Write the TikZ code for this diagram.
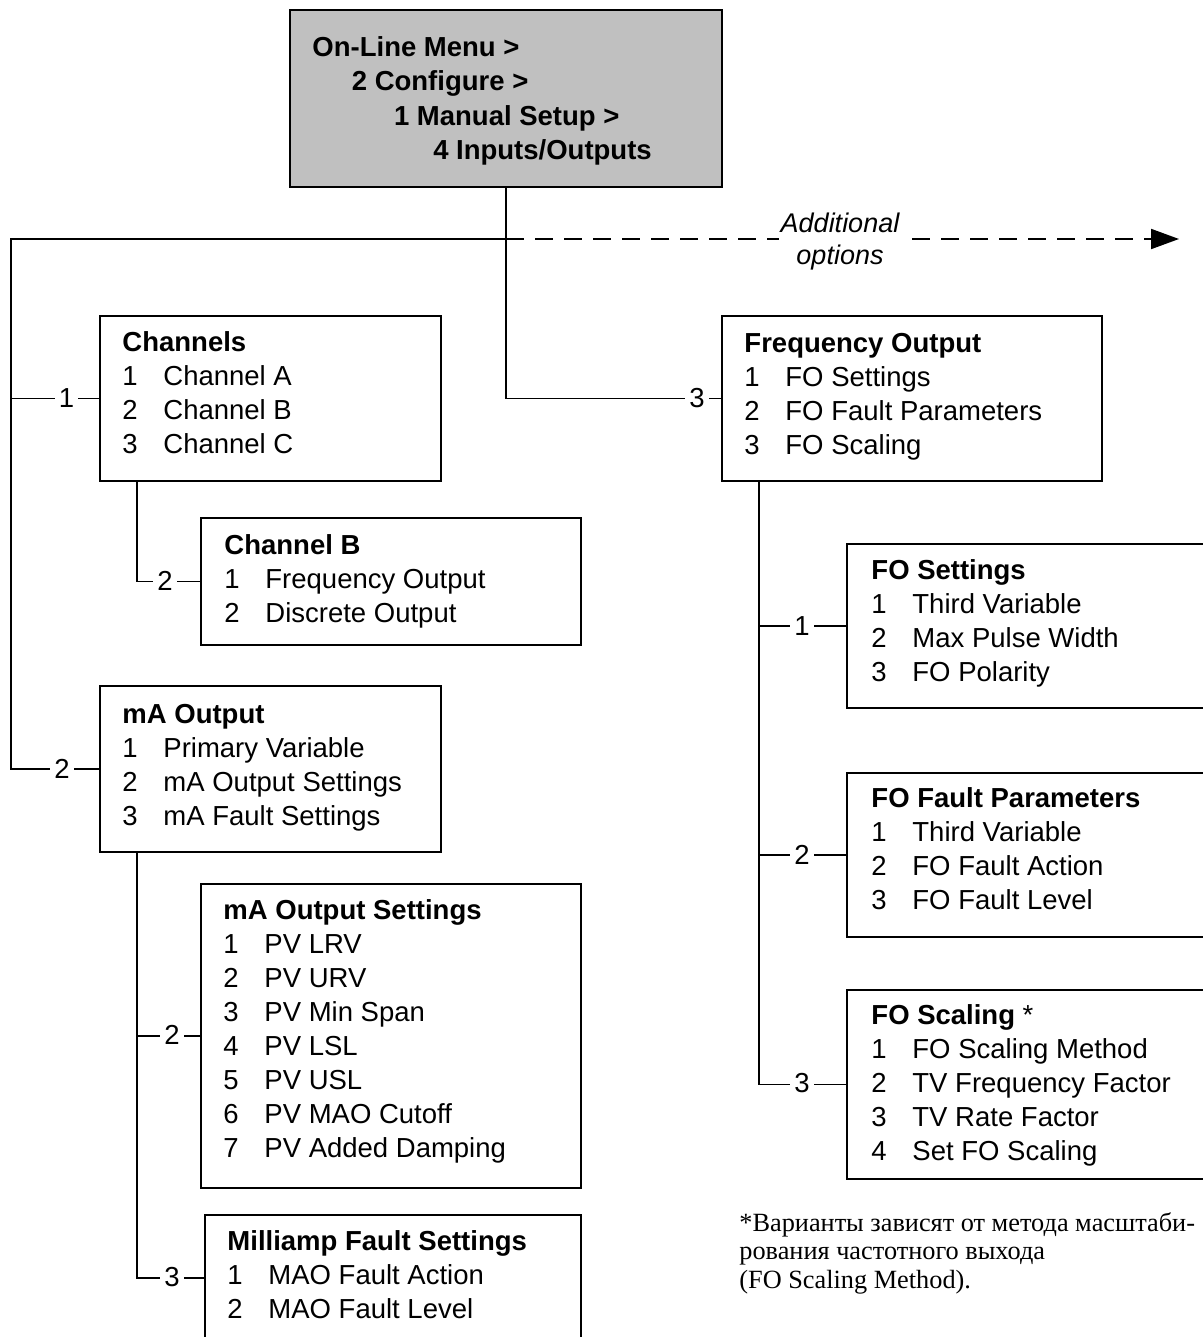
\documentclass[tikz,border=0pt]{standalone}
\usepackage{fontspec}
\setmainfont{Liberation Sans}
\newfontfamily\noteserif{Liberation Serif}
\usetikzlibrary{fit,arrows.meta,calc}
\definecolor{boxgray}{RGB}{192,192,192}
\newcommand\mitem[2]{\makebox[20.5pt][l]{#1}#2}
\begin{document}
\begin{tikzpicture}[x=0.5pt,y=-0.5pt,
  menubox/.style={draw, inner sep=0pt, line width=0.95pt},
  menutext/.style={anchor=base west, inner sep=0pt, font=\fontsize{13.75}{17}\selectfont},
  numlab/.style={fill=white, inner xsep=2pt, inner ysep=1pt, font=\fontsize{13.75}{17}\selectfont},
  conn/.style={line width=0.95pt},
  notetext/.style={anchor=base west, inner sep=0pt, font=\noteserif\fontsize{13.15}{14.3}\selectfont}]
\useasboundingbox (0,0) rectangle (1203,1337);
\clip (0,0) rectangle (1203,1337);

% boxes
\node[menubox, fill=boxgray, fit={(290,10)(722,187)}] (top) {};
\node[menubox, fit={(100,316)(441,481)}] (chan) {};
\node[menubox, fit={(201,518)(581,645)}] (chb) {};
\node[menubox, fit={(100,686)(441,852)}] (mao) {};
\node[menubox, fit={(201,884)(581,1188)}] (maos) {};
\node[menubox, fit={(205,1215)(581,1341)}] (mfs) {};
\node[menubox, fit={(722,316)(1102,481)}] (fo) {};
\node[menubox, fit={(847,544)(1220,708)}] (fos) {};
\node[menubox, fit={(847,773)(1220,937)}] (fofp) {};
\node[menubox, fit={(847,990)(1220,1179)}] (fosc) {};

% texts
\node[menutext, font=\bfseries\fontsize{13.75}{17.25}\selectfont] (toptext) at ($(top.north west)+(23,47)$)
 {\begin{tabular}[t]{@{}l@{}}On-Line Menu >\\\hspace{19.7pt}2 Configure >\\\hspace{40.8pt}1 Manual Setup >\\\hspace{60.4pt}4 Inputs/Outputs\end{tabular}};
\node[menutext] (chantext) at ($(chan.north west)+(23,36)$)
 {\begin{tabular}[t]{@{}l@{}}\textbf{Channels}\\\mitem{1}{Channel A}\\\mitem{2}{Channel B}\\\mitem{3}{Channel C}\end{tabular}};
\node[menutext] (chbtext) at ($(chb.north west)+(24,37)$)
 {\begin{tabular}[t]{@{}l@{}}\textbf{Channel B}\\\mitem{1}{Frequency Output}\\\mitem{2}{Discrete Output}\end{tabular}};
\node[menutext] (maotext) at ($(mao.north west)+(23,38)$)
 {\begin{tabular}[t]{@{}l@{}}\textbf{mA Output}\\\mitem{1}{Primary Variable}\\\mitem{2}{mA Output Settings}\\\mitem{3}{mA Fault Settings}\end{tabular}};
\node[menutext] (maostext) at ($(maos.north west)+(23,36)$)
 {\begin{tabular}[t]{@{}l@{}}\textbf{mA Output Settings}\\\mitem{1}{PV LRV}\\\mitem{2}{PV URV}\\\mitem{3}{PV Min Span}\\\mitem{4}{PV LSL}\\\mitem{5}{PV USL}\\\mitem{6}{PV MAO Cutoff}\\\mitem{7}{PV Added Damping}\end{tabular}};
\node[menutext] (mfstext) at ($(mfs.north west)+(23,36)$)
 {\begin{tabular}[t]{@{}l@{}}\textbf{Milliamp Fault Settings}\\\mitem{1}{MAO Fault Action}\\\mitem{2}{MAO Fault Level}\end{tabular}};
\node[menutext] (fotext) at ($(fo.north west)+(23,37)$)
 {\begin{tabular}[t]{@{}l@{}}\textbf{Frequency Output}\\\mitem{1}{FO Settings}\\\mitem{2}{FO Fault Parameters}\\\mitem{3}{FO Scaling}\end{tabular}};
\node[menutext] (fostext) at ($(fos.north west)+(25,36)$)
 {\begin{tabular}[t]{@{}l@{}}\textbf{FO Settings}\\\mitem{1}{Third Variable}\\\mitem{2}{Max Pulse Width}\\\mitem{3}{FO Polarity}\end{tabular}};
\node[menutext] (fofptext) at ($(fofp.north west)+(25,35)$)
 {\begin{tabular}[t]{@{}l@{}}\textbf{FO Fault Parameters}\\\mitem{1}{Third Variable}\\\mitem{2}{FO Fault Action}\\\mitem{3}{FO Fault Level}\end{tabular}};
\node[menutext] (fosctext) at ($(fosc.north west)+(25,35)$)
 {\begin{tabular}[t]{@{}l@{}}\textbf{FO Scaling} *\\\mitem{1}{FO Scaling Method}\\\mitem{2}{TV Frequency Factor}\\\mitem{3}{TV Rate Factor}\\\mitem{4}{Set FO Scaling}\end{tabular}};

\node[notetext] (note) at (739,1231)
 {\begin{tabular}[t]{@{}l@{}}*Варианты зависят от метода масштаби-\\рования частотного выхода\\(FO Scaling Method).\end{tabular}};

% junction coordinates
\coordinate (tl) at (11,239);
\coordinate (jt) at (top.south |- tl);
\coordinate (arrowend) at (1179,239);
\coordinate (chanb) at (137,481);
\coordinate (maob) at (137,852);
\coordinate (fob) at (759,481);

% connectors
\draw[conn] (top.south) -- (jt) |- (fo.west);
\draw[conn] (jt) -- (tl) -- (tl |- mao.west) -- (mao.west);
\draw[conn] (tl |- chan.west) -- (chan.west);
\draw[conn, dash pattern=on 9pt off 5.5pt, -{Triangle[length=14pt, width=10pt]}] (jt) -- (arrowend);
\draw[conn] (chanb) |- (chb.west);
\draw[conn] (maob) |- (mfs.west);
\draw[conn] (maob |- maos.west) -- (maos.west);
\draw[conn] (fob) |- (fosc.west);
\draw[conn] (fob |- fos.west) -- (fos.west);
\draw[conn] (fob |- fofp.west) -- (fofp.west);

% connector labels
\node[numlab] (l1) at (66.5,398) {1};
\node[numlab] (l2) at (62,769) {2};
\node[numlab] (l3) at (165,581) {2};
\node[numlab] (l4) at (172,1035) {2};
\node[numlab] (l5) at (172,1277) {3};
\node[numlab] (l6) at (697,398) {3};
\node[numlab] (l7) at (802,626) {1};
\node[numlab] (l8) at (802,855) {2};
\node[numlab] (l9) at (802,1083) {3};

\node[fill=white, inner xsep=1pt, inner ysep=0pt, align=center, font=\itshape\fontsize{13.5}{16}\selectfont] (addopt) at (840,242) {Additional\\options};
\end{tikzpicture}
\end{document}
